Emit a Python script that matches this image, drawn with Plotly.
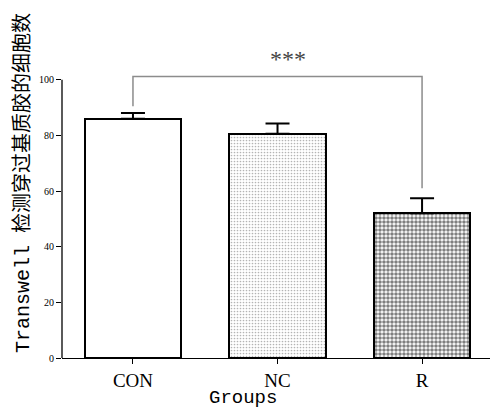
import plotly.graph_objects as go

groups = ["CON", "NC", "R"]
means = [86.0, 80.6, 52.0]
err_up = [2.1, 3.7, 5.4]
y_ticks = [0, 20, 40, 60, 80, 100]
sig_label = "***"
sig_y = 101.2
sig_left_bottom = 90.5
sig_right_bottom = 61.0

W, H = 494, 410
fig = go.Figure()

patterns = [
    dict(shape="", bgcolor="white"),
    dict(shape=".", fgcolor="#6a6a6a", bgcolor="white", size=3, solidity=0.25, fillmode="overlay"),
    dict(shape=".", fgcolor="black", bgcolor="white", size=4, solidity=0.62, fillmode="overlay"),
]
for i, g in enumerate(groups):
    fig.add_trace(go.Bar(
        x=[i], y=[means[i]], width=0.67,
        marker=dict(color="white", line=dict(color="black", width=2), pattern=patterns[i]),
        error_y=dict(type="data", symmetric=False, array=[err_up[i]], arrayminus=[0],
                     color="black", thickness=2, width=12),
        showlegend=False,
    ))

# significance bracket
fig.add_trace(go.Scatter(
    x=[0, 0, 2, 2], y=[sig_left_bottom, sig_y, sig_y, sig_right_bottom],
    mode="lines", line=dict(color="#8c8c8c", width=1.5), showlegend=False, hoverinfo="skip",
))
fig.add_annotation(x=1.07, y=sig_y, yshift=17, text=sig_label, showarrow=False,
                   font=dict(family="Liberation Serif", size=24, color="#444"))

# y axis line only to 100
fig.add_shape(type="line", xref="paper", yref="y", x0=0, x1=0, y0=0, y1=100,
              line=dict(color="black", width=1.3))

fig.update_xaxes(range=[-0.491, 2.47], tickvals=[0, 1, 2], ticktext=groups,
                 showline=True, linecolor="black", linewidth=1.3,
                 ticks="outside", ticklen=5, tickcolor="black", tickwidth=1,
                 tickfont=dict(family="Liberation Serif", size=19, color="black"),
                 showgrid=False, zeroline=False)
fig.update_yaxes(range=[0, 110], tickvals=y_ticks, showline=False,
                 ticks="outside", ticklen=5, tickcolor="black", tickwidth=1,
                 tickfont=dict(family="Liberation Serif", size=10, color="black"),
                 showgrid=False, zeroline=False)

fig.add_annotation(xref="paper", yref="paper", x=(23 - 62) / 428, y=(358 - 183) / 306,
                   xanchor="center", yanchor="middle",
                   text="Transwell 检测穿过基质胶的细胞数", textangle=-90, showarrow=False,
                   font=dict(family="Liberation Mono, Noto Sans CJK SC", size=20, color="black"))
fig.add_annotation(xref="paper", yref="paper", x=(243 - 62) / 428, y=-(398 - 358) / 306,
                   xanchor="center", yanchor="middle",
                   text="Groups", showarrow=False,
                   font=dict(family="Liberation Mono", size=19, color="black"))

fig.update_layout(width=W, height=H, margin=dict(l=62, r=4, t=52, b=52),
                  plot_bgcolor="white", paper_bgcolor="white", bargap=0)
fig.write_html("out.html")
